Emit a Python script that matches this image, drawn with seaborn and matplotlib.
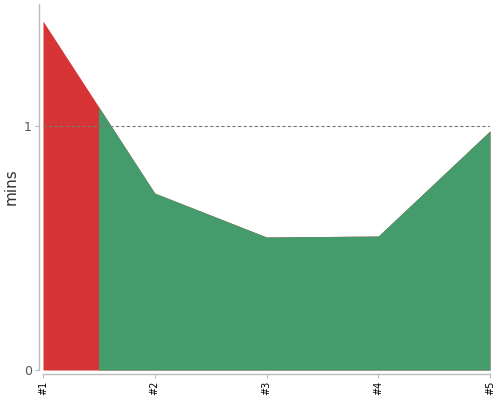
import matplotlib

matplotlib.use("Agg")
import matplotlib.pyplot as plt
import numpy as np
import seaborn as sns
from matplotlib.patches import Rectangle

# data
labels = ["#1", "#2", "#3", "#4", "#5"]
minutes = [1.43, 0.725, 0.545, 0.549, 0.98]
target = 1.0
split_at = 0.5  # red part ends halfway between #1 and #2

red = "#d73535"
green = "#449c6c"

sns.set_theme(style="white")
plt.rcParams["font.family"] = ["DejaVu Sans"]

fig = plt.figure(figsize=(5, 4), dpi=100)
ax = fig.add_axes([0.086, 0.075, 0.894, 0.915])

x = np.arange(len(labels))
ax.fill_between(x, 0, minutes, color=red, lw=0, zorder=2)
green_area = ax.fill_between(x, 0, minutes, color=green, lw=0, zorder=3)
clip = Rectangle((split_at, 0), len(labels), 10, transform=ax.transData)
green_area.set_clip_path(clip)

ax.axhline(target, color="#777777", lw=0.8, ls=(0, (3, 2)), zorder=4)

ax.set_xlim(0, len(labels) - 1)
ax.set_ylim(0, 1.5)
ax.set_xticks(x, labels)
ax.set_yticks([0, 1], ["0", "1"])
ax.set_ylabel("mins", fontsize=11, color="#333333")
ax.yaxis.set_label_coords(-0.055, 0.5)
ax.tick_params(axis="both", which="both", length=3, width=0.8, color="#bbbbbb",
               bottom=True, left=True, pad=2)
ax.tick_params(axis="x", labelrotation=90, labelsize=7, labelcolor="black")
ax.tick_params(axis="y", labelsize=9, labelcolor="#555555")

sns.despine(ax=ax, offset=3)
for side in ("left", "bottom"):
    ax.spines[side].set_color("#bbbbbb")
    ax.spines[side].set_linewidth(1)

fig.savefig("out.png", dpi=100)
